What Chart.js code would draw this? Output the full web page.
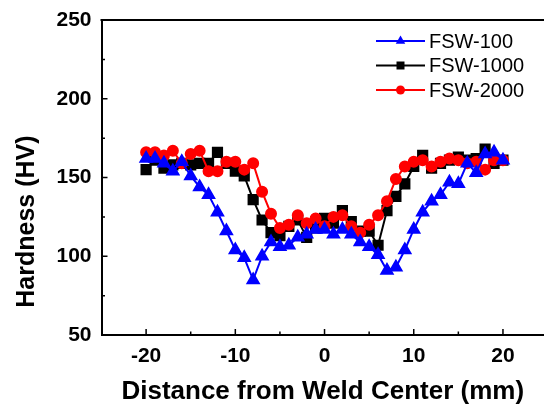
<!DOCTYPE html>
<html>
<head>
<meta charset="utf-8">
<script src="https://cdn.jsdelivr.net/npm/chart.js@4/dist/chart.umd.min.js"></script>
<style>
  html, body { margin: 0; padding: 0; background: #fff; }
</style>
</head>
<body>
<canvas id="hvChart" width="544" height="407"></canvas>
<script>
// distance from weld center (mm)
const distance = [-20, -19, -18, -17, -16, -15, -14, -13, -12, -11, -10, -9, -8, -7, -6, -5, -4, -3, -2, -1,
  0, 1, 2, 3, 4, 5, 6, 7, 8, 9, 10, 11, 12, 13, 14, 15, 16, 17, 18, 19, 20];

// hardness (HV)
const fsw100 = [162, 162, 159, 154, 160, 151, 144, 139, 128, 116, 104, 99, 85, 100, 109, 106, 107, 112, 114, 117,
  117, 114, 117, 114, 109, 106, 101, 91, 93, 104, 117, 128, 135, 139, 147, 146, 159, 153, 165, 166, 161];
const fsw1000 = [155, 161, 156, 158, 159, 158, 159, 159, 166, 159, 154, 151, 136, 123, 115, 113, 119, 123, 112, 118,
  124, 121, 129, 122, 116, 116, 107, 129, 138, 146, 157, 164, 156, 159, 161, 163, 161, 162, 168, 159, 161];
const fsw2000 = [166, 166, 164, 167, 159, 165, 167, 154, 154, 160, 160, 155, 159, 141, 127, 118, 120, 126, 121, 124,
  119, 125, 126, 119, 115, 120, 126, 135, 149, 157, 160, 161, 157, 160, 162, 161, 159, 160, 155, 161, 161];

const xTicks = [-20, -10, 0, 10, 20];
const xMinorTicks = [-15, -5, 5, 15];
const yTicks = [50, 100, 150, 200, 250];
const yMinorTicks = [75, 125, 175, 225];

const seriesNames = ['FSW-100', 'FSW-1000', 'FSW-2000'];
const seriesColors = ['#0000ff', '#000000', '#ff0000'];
const seriesMarkers = ['triangle', 'rect', 'circle'];
const yTitle = 'Hardness (HV)';

const toPoints = (ys) => distance.map((x, i) => ({ x: x, y: ys[i] }));

// inward tick marks, top frame line, y title
const frameTicks = {
  id: 'frameTicks',
  afterDraw(chart) {
    const { ctx, chartArea } = chart;
    const xs = chart.scales.x, ys = chart.scales.y;
    ctx.save();
    ctx.strokeStyle = '#000';
    ctx.lineWidth = 2;
    ctx.beginPath();
    ctx.moveTo(chartArea.left - 1, chartArea.top);
    ctx.lineTo(chartArea.right, chartArea.top);
    ctx.stroke();
    ctx.lineWidth = 1.5;
    ctx.beginPath();
    xTicks.concat(xMinorTicks).forEach(v => {
      const px = xs.getPixelForValue(v);
      const len = xTicks.includes(v) ? 6 : 3.5;
      ctx.moveTo(px, chartArea.bottom);
      ctx.lineTo(px, chartArea.bottom - len);
    });
    yTicks.concat(yMinorTicks).forEach(v => {
      const py = ys.getPixelForValue(v);
      const len = yTicks.includes(v) ? 6 : 3.5;
      ctx.moveTo(chartArea.left, py);
      ctx.lineTo(chartArea.left + len, py);
    });
    ctx.stroke();

    // y axis title sits a bit below the middle of the axis
    ctx.translate(27, ys.getPixelForValue(122));
    ctx.rotate(-Math.PI / 2);
    ctx.font = 'bold 25px "Liberation Sans", Arial, sans-serif';
    ctx.fillStyle = '#000';
    ctx.textAlign = 'center';
    ctx.textBaseline = 'middle';
    ctx.fillText(yTitle, 0, 0);
    ctx.restore();
  }
};

function drawMarker(ctx, kind, x, y, r) {
  ctx.beginPath();
  if (kind === 'triangle') {
    ctx.moveTo(x, y - r);
    ctx.lineTo(x + r * 0.866, y + r * 0.5);
    ctx.lineTo(x - r * 0.866, y + r * 0.5);
    ctx.closePath();
  } else if (kind === 'rect') {
    ctx.rect(x - r, y - r, 2 * r, 2 * r);
  } else {
    ctx.arc(x, y, r, 0, Math.PI * 2);
  }
  ctx.fill();
}

// legend in the top right corner of the plot
const cornerLegend = {
  id: 'cornerLegend',
  afterDraw(chart) {
    const { ctx } = chart;
    const x0 = 376;
    const rows = [41, 65.5, 90];
    ctx.save();
    ctx.font = '20px "Liberation Sans", Arial, sans-serif';
    ctx.textBaseline = 'middle';
    seriesNames.forEach((name, i) => {
      const y = rows[i];
      ctx.strokeStyle = seriesColors[i];
      ctx.fillStyle = seriesColors[i];
      ctx.lineWidth = 2;
      ctx.beginPath();
      ctx.moveTo(x0, y);
      ctx.lineTo(x0 + 49, y);
      ctx.stroke();
      drawMarker(ctx, seriesMarkers[i], x0 + 24.5, y, seriesMarkers[i] === 'triangle' ? 5.5 : (seriesMarkers[i] === 'rect' ? 4 : 4.5));
      ctx.fillStyle = '#000';
      ctx.fillText(name, x0 + 53, y + 1);
    });
    ctx.restore();
  }
};

const tickFont = { family: '"Liberation Sans", Arial, sans-serif', size: 21, weight: 'bold' };
const titleFont = { family: '"Liberation Sans", Arial, sans-serif', size: 26, weight: 'bold' };

const ctx = document.getElementById('hvChart').getContext('2d');
const hvChart = new Chart(ctx, {
  type: 'line',
  data: {
    datasets: [
      {
        label: seriesNames[0],
        data: toPoints(fsw100),
        borderColor: seriesColors[0],
        backgroundColor: seriesColors[0],
        pointStyle: 'triangle',
        pointRadius: 6.5,
        borderWidth: 2,
        order: 0
      },
      {
        label: seriesNames[1],
        data: toPoints(fsw1000),
        borderColor: seriesColors[1],
        backgroundColor: seriesColors[1],
        pointStyle: 'rect',
        pointRadius: 6.5,
        borderWidth: 2,
        order: 2
      },
      {
        label: seriesNames[2],
        data: toPoints(fsw2000),
        borderColor: seriesColors[2],
        backgroundColor: seriesColors[2],
        pointStyle: 'circle',
        pointRadius: 5,
        borderWidth: 2,
        order: 1
      }
    ]
  },
  options: {
    responsive: false,
    animation: false,
    layout: { autoPadding: false, padding: { top: 20, right: 0, left: 0, bottom: 0 } },
    elements: { point: { borderWidth: 0 }, line: { tension: 0 } },
    scales: {
      x: {
        type: 'linear',
        min: -25,
        max: 24.6,
        afterBuildTicks: (scale) => { scale.ticks = xTicks.map(v => ({ value: v })); },
        afterFit: (scale) => {
          scale.height = 72;
          scale.paddingLeft = 0;
          scale.paddingRight = 0;
        },
        grid: { display: false, drawTicks: false },
        border: { display: true, color: '#000', width: 2 },
        ticks: { color: '#000', font: tickFont, padding: 9, maxRotation: 0 },
        title: {
          display: true,
          text: 'Distance from Weld Center (mm)',
          color: '#000',
          font: titleFont,
          padding: { top: 0, bottom: 0 }
        }
      },
      y: {
        min: 50,
        max: 250,
        afterBuildTicks: (scale) => { scale.ticks = yTicks.map(v => ({ value: v })); },
        afterFit: (scale) => {
          scale.width = 101.5;
          scale.paddingTop = 0;
          scale.paddingBottom = 0;
        },
        grid: { display: false, drawTicks: false },
        border: { display: true, color: '#000', width: 2 },
        ticks: { color: '#000', font: tickFont, padding: 10 },
        title: { display: false }
      }
    },
    plugins: {
      legend: { display: false },
      tooltip: { enabled: false }
    }
  },
  plugins: [frameTicks, cornerLegend]
});
</script>
</body>
</html>
